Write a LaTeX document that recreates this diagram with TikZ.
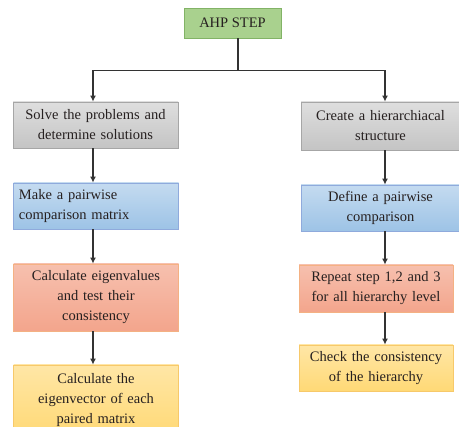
\documentclass[tikz,border=0pt]{standalone}
\usepackage{fontspec}
\setmainfont{Liberation Serif}
\usepackage{xcolor}
\usetikzlibrary{arrows.meta}

\definecolor{stepgreen}{HTML}{A9D18E}
\definecolor{stepgreenline}{HTML}{82B366}
\definecolor{stepgray}{HTML}{C4C4C4}
\definecolor{stepgrayline}{HTML}{A6A6A6}
\definecolor{stepblue}{HTML}{9DC3E6}
\definecolor{stepblueline}{HTML}{8FAADC}
\definecolor{steporange}{HTML}{F3A58C}
\definecolor{steporangeline}{HTML}{F4B183}
\definecolor{stepyellow}{HTML}{FFD976}
\definecolor{stepyellowline}{HTML}{F7C96A}
\definecolor{steptext}{HTML}{262020}

\tikzset{
	box/.style={draw, line width=0.8pt, text=steptext, align=center, inner sep=2pt,
		font=\fontsize{14.5}{20}\selectfont},
	graybox/.style={box, draw=stepgrayline, top color=stepgray!55, bottom color=stepgray},
	bluebox/.style={box, draw=stepblueline, top color=stepblue!60, bottom color=stepblue},
	orangebox/.style={box, draw=steporangeline, top color=steporange!70, bottom color=steporange},
	yellowbox/.style={box, draw=stepyellowline, top color=stepyellow!65, bottom color=stepyellow},
	arr/.style={draw=black!80, line width=1.1pt, -{Latex[length=6pt,width=6pt]}}
}

\begin{document}
\begin{tikzpicture}[x=1pt,y=-1pt]
\useasboundingbox (0,0) rectangle (459,427);

% top step
\node[box, draw=stepgreenline, fill=stepgreen, minimum width=97pt, minimum height=30pt] (ahp) at (232.5,23) {AHP STEP};

% left column
\node[graybox, minimum width=165pt, minimum height=46pt, text width=160pt] (solve) at (95.5,125) {Solve the problems and\\determine solutions};
\node[bluebox, minimum width=165pt, minimum height=46pt, text width=154pt, align=left] (mkpair) at (96,206) {Make a pairwise\\comparison matrix};
\node[orangebox, minimum width=165pt, minimum height=67pt, text width=160pt] (calceig) at (96,297.5) {Calculate eigenvalues\\and test their\\consistency};
\node[yellowbox, minimum width=165pt, minimum height=70pt, text width=160pt] (calcvec) at (96,400) {Calculate the\\eigenvector of each\\paired matrix};

% right column
\node[graybox, minimum width=159pt, minimum height=48pt, text width=154pt] (create) at (380.5,126) {Create a hierarchiacal\\structure};
\node[bluebox, minimum width=159pt, minimum height=46pt, text width=154pt] (define) at (380.5,208) {Define a pairwise\\comparison};
\node[orangebox, minimum width=152pt, minimum height=47pt, text width=150pt] (repeat) at (376,288.5) {Repeat step 1,2 and 3\\for all hierarchy level};
\node[yellowbox, minimum width=152pt, minimum height=46pt, text width=150pt] (check) at (376,368) {Check the consistency\\of the hierarchy};

% arrow columns
\coordinate (lcol) at (93,0);
\coordinate (rcol) at (385,0);

% connectors
\draw[draw=black!80, line width=1.1pt] (ahp.south -| 238,0) -- ++(0,32) coordinate (split);
\draw[arr] (split) -| (solve.north -| lcol);
\draw[arr] (split) -| (create.north -| rcol);
\draw[arr] (solve.south -| lcol) -- (mkpair.north -| lcol);
\draw[arr] (mkpair.south -| lcol) -- (calceig.north -| lcol);
\draw[arr] (calceig.south -| lcol) -- (calcvec.north -| lcol);
\draw[arr] (create.south -| rcol) -- (define.north -| rcol);
\draw[arr] (define.south -| rcol) -- (repeat.north -| rcol);
\draw[arr] (repeat.south -| rcol) -- (check.north -| rcol);
\end{tikzpicture}
\end{document}
